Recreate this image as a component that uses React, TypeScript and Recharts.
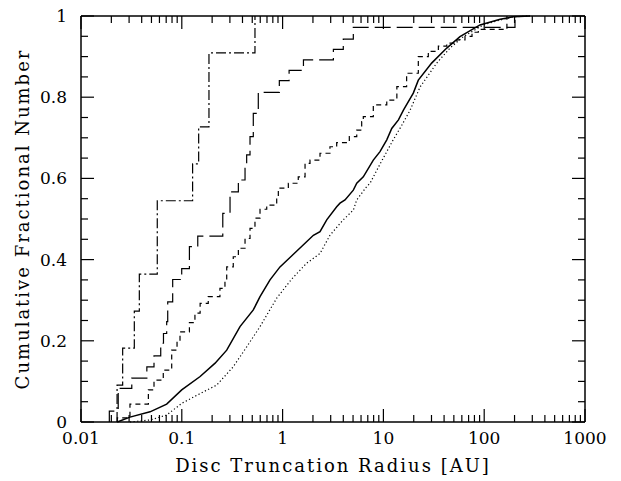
import React from 'react';
import { LineChart, Line, XAxis, YAxis, ReferenceLine, ReferenceArea } from 'recharts';

// tick values and labels
const X_MAJOR = [0.01, 0.1, 1, 10, 100, 1000];
const X_LABELS = ['0.01', '0.1', '1', '10', '100', '1000'];
const X_MINOR = [
  0.02, 0.03, 0.04, 0.05, 0.06, 0.07, 0.08, 0.09,
  0.2, 0.3, 0.4, 0.5, 0.6, 0.7, 0.8, 0.9,
  2, 3, 4, 5, 6, 7, 8, 9,
  20, 30, 40, 50, 60, 70, 80, 90,
  200, 300, 400, 500, 600, 700, 800, 900,
];
const Y_MAJOR = [0, 0.2, 0.4, 0.6, 0.8, 1];
const Y_LABELS = ['0', '0.2', '0.4', '0.6', '0.8', '1'];
const Y_MINOR = [0.05, 0.1, 0.15, 0.25, 0.3, 0.35, 0.45, 0.5, 0.55, 0.65, 0.7, 0.75, 0.85, 0.9, 0.95];

// dash-dot curve
const DD_X = [0.0228, 0.0228, 0.0259, 0.0338, 0.0379, 0.0571, 0.128, 0.147, 0.186, 0.532];
const DD_Y = [0, 0.091, 0.182, 0.273, 0.364, 0.545, 0.636, 0.727, 0.909, 1];

// long dash curve
const LD_X = [0.0191, 0.0191, 0.0234, 0.0319, 0.045, 0.053, 0.0618, 0.0658, 0.0708, 0.0725,
  0.0812, 0.0998, 0.119, 0.144, 0.255, 0.301, 0.364, 0.424, 0.44, 0.475,
  0.512, 0.574, 0.928, 1.16, 1.61, 3.19, 4.0, 5.03, 202];
const LD_Y = [0, 0.027, 0.083, 0.108, 0.136, 0.163, 0.194, 0.218, 0.247, 0.296,
  0.351, 0.378, 0.432, 0.458, 0.514, 0.567, 0.596, 0.625, 0.658, 0.703,
  0.76, 0.812, 0.841, 0.866, 0.892, 0.918, 0.943, 0.972, 1];

// short dash curve
const SD_X = [0.0229, 0.0229, 0.0306, 0.0466, 0.053, 0.0655, 0.0794, 0.0897, 0.096, 0.119,
  0.135, 0.152, 0.183, 0.239, 0.268, 0.279, 0.324, 0.364, 0.424, 0.475,
  0.532, 0.597, 0.696, 0.874, 0.907, 1.14, 1.43, 1.67, 1.87, 2.35,
  2.95, 3.44, 4.59, 5.44, 6.09, 6.32, 7.94, 10.8, 13.6, 17.0,
  22.2, 27.9, 35.1, 42.5, 53.4, 64.5, 75.7, 87.4, 168];
const SD_Y = [0, 0.01, 0.044, 0.079, 0.103, 0.128, 0.177, 0.2, 0.222, 0.245,
  0.268, 0.292, 0.309, 0.329, 0.35, 0.382, 0.407, 0.428, 0.452, 0.477,
  0.502, 0.524, 0.534, 0.555, 0.576, 0.588, 0.604, 0.637, 0.645, 0.662,
  0.678, 0.688, 0.703, 0.719, 0.74, 0.752, 0.781, 0.793, 0.826, 0.859,
  0.9, 0.913, 0.926, 0.933, 0.941, 0.95, 0.96, 0.967, 1];

// solid curve
const SO_X = [0.0229, 0.0306, 0.0484, 0.0708, 0.0998, 0.152, 0.214, 0.279, 0.378, 0.512,
  0.597, 0.75, 0.942, 1.28, 1.73, 2.02, 2.35, 2.74, 3.44, 3.71,
  4.16, 5.03, 5.44, 6.32, 7.94, 9.25, 10.8, 12.1, 14.1, 15.8,
  19.8, 22.2, 30.1, 42.5, 57.5, 90.9, 144, 194, 285];
const SO_Y = [0, 0.012, 0.025, 0.044, 0.079, 0.112, 0.145, 0.177, 0.235, 0.276,
  0.309, 0.35, 0.382, 0.413, 0.444, 0.46, 0.469, 0.498, 0.53, 0.539,
  0.547, 0.571, 0.588, 0.604, 0.645, 0.666, 0.695, 0.723, 0.744, 0.768,
  0.81, 0.842, 0.884, 0.921, 0.949, 0.978, 0.992, 0.998, 1];

// dotted curve
const DO_X = [0.0306, 0.0484, 0.0708, 0.0998, 0.152, 0.222, 0.324, 0.44, 0.597, 0.874,
  1.23, 1.73, 2.35, 2.95, 3.71, 4.0, 5.03, 5.44, 6.83, 7.37,
  9.25, 12.5, 15.0, 18.4, 23.1, 33.8, 45.8, 62.0, 98.0, 144,
  194, 285];
const DO_Y = [0, 0.005, 0.017, 0.046, 0.07, 0.091, 0.136, 0.185, 0.235, 0.305,
  0.352, 0.391, 0.415, 0.46, 0.489, 0.498, 0.522, 0.547, 0.58, 0.588,
  0.635, 0.695, 0.728, 0.768, 0.825, 0.884, 0.921, 0.949, 0.978, 0.99,
  0.998, 1];

const zip = (xs: number[], ys: number[]) => xs.map((x, i) => ({ x, y: ys[i] }));

const FONT = '"DejaVu Serif", serif';
const X_TICKS = [...X_MAJOR, ...X_MINOR].sort((a, b) => a - b);
const Y_TICKS = [...Y_MAJOR, ...Y_MINOR].sort((a, b) => a - b);
const AXIS_LINE = { stroke: '#000', strokeWidth: 1.5 };

// tick lengths: 13px major / 7px minor (y range 406px, one decade 100.8px)
const XT_MAJOR = 13 / 406;
const XT_MINOR = 7 / 406;
const YT_MAJOR = Math.pow(10, 13 / 100.8);
const YT_MINOR = Math.pow(10, 7 / 100.8);
const XT_HALF_W = Math.pow(10, 0.6 / 100.8); // half of a 1.2px wide tick

function BottomLabel({ x, y, payload }: any) {
  const i = X_MAJOR.indexOf(payload.value);
  if (i < 0) return <g />;
  return (
    <text x={x} y={Number(y) + 22} textAnchor="middle" fontFamily={FONT} fontSize={17} fill="#000">
      {X_LABELS[i]}
    </text>
  );
}

function LeftLabel({ x, y, payload }: any) {
  const i = Y_MAJOR.indexOf(payload.value);
  if (i < 0) return <g />;
  return (
    <text x={Number(x) - 14} y={Number(y) + 6} textAnchor="end" fontFamily={FONT} fontSize={17} fill="#000">
      {Y_LABELS[i]}
    </text>
  );
}

function xTickMarks() {
  const marks: React.ReactNode[] = [];
  X_TICKS.forEach((v) => {
    const len = X_MAJOR.includes(v) ? XT_MAJOR : XT_MINOR;
    const x1 = v / XT_HALF_W;
    const x2 = v * XT_HALF_W;
    marks.push(
      <ReferenceArea key={`b${v}`} x1={x1} x2={x2} y1={0} y2={len} fill="#000" fillOpacity={1}
        stroke="none" ifOverflow="visible" />,
      <ReferenceArea key={`t${v}`} x1={x1} x2={x2} y1={1 - len} y2={1} fill="#000" fillOpacity={1}
        stroke="none" ifOverflow="visible" />,
    );
  });
  return marks;
}

function yTickMarks() {
  const marks: React.ReactNode[] = [];
  Y_TICKS.forEach((v) => {
    const f = Y_MAJOR.includes(v) ? YT_MAJOR : YT_MINOR;
    marks.push(
      <ReferenceLine key={`l${v}`} segment={[{ x: 0.01, y: v }, { x: 0.01 * f, y: v }]} stroke="#000"
        strokeWidth={1.2} ifOverflow="visible" />,
      <ReferenceLine key={`r${v}`} segment={[{ x: 1000, y: v }, { x: 1000 / f, y: v }]} stroke="#000"
        strokeWidth={1.2} ifOverflow="visible" />,
    );
  });
  return marks;
}

export default function App() {
  return (
    <div style={{ position: 'absolute', left: 0, top: 0, background: '#fff' }}>
      <LineChart width={621} height={481} margin={{ top: 15, right: 35, bottom: 29, left: 80 }}>
        <XAxis
          dataKey="x" type="number" scale="log" domain={[0.01, 1000]} allowDataOverflow
          ticks={X_MAJOR} interval={0} height={30} tickSize={0} tickMargin={0}
          tickLine={false} axisLine={AXIS_LINE}
          tick={(p: any) => <BottomLabel {...p} />}
          label={{
            content: ({ viewBox }: any) => (
              <text x={viewBox.x + viewBox.width / 2} y={viewBox.y + 50} textAnchor="middle"
                fontFamily={FONT} fontSize={18} letterSpacing={2} fill="#000">
                Disc Truncation Radius [AU]
              </text>
            ),
          }}
        />
        <XAxis
          xAxisId="top" orientation="top" dataKey="x" type="number" scale="log" domain={[0.01, 1000]}
          allowDataOverflow height={1} tick={false} tickLine={false} axisLine={AXIS_LINE}
        />
        <YAxis
          type="number" domain={[0, 1]} ticks={Y_TICKS} interval={0} width={1} tickSize={0} tickMargin={0}
          tickLine={false} axisLine={AXIS_LINE}
          tick={(p: any) => <LeftLabel {...p} />}
          label={{
            content: ({ viewBox }: any) => {
              const cy = viewBox.y + viewBox.height / 2;
              return (
                <text x={22} y={cy} transform={`rotate(-90, 22, ${cy})`} textAnchor="middle"
                  dominantBaseline="central" fontFamily={FONT} fontSize={18} letterSpacing={2} fill="#000">
                  Cumulative Fractional Number
                </text>
              );
            },
          }}
        />
        <YAxis
          yAxisId="right" orientation="right" type="number" domain={[0, 1]} width={1}
          tick={false} tickLine={false} axisLine={AXIS_LINE}
        />
        {xTickMarks()}
        {yTickMarks()}
        <Line data={zip(DO_X, DO_Y)} dataKey="y" type="linear" stroke="#000" strokeWidth={1.2}
          strokeDasharray="1.2 2.4" dot={false} activeDot={false} isAnimationActive={false} />
        <Line data={zip(SO_X, SO_Y)} dataKey="y" type="linear" stroke="#000" strokeWidth={1.5}
          dot={false} activeDot={false} isAnimationActive={false} />
        <Line data={zip(SD_X, SD_Y)} dataKey="y" type="stepAfter" stroke="#000" strokeWidth={1.2}
          strokeDasharray="5 4" dot={false} activeDot={false} isAnimationActive={false} />
        <Line data={zip(LD_X, LD_Y)} dataKey="y" type="stepAfter" stroke="#000" strokeWidth={1.2}
          strokeDasharray="16 6" dot={false} activeDot={false} isAnimationActive={false} />
        <Line data={zip(DD_X, DD_Y)} dataKey="y" type="stepAfter" stroke="#000" strokeWidth={1.2}
          strokeDasharray="10 3 2 3" dot={false} activeDot={false} isAnimationActive={false} />
      </LineChart>
    </div>
  );
}
